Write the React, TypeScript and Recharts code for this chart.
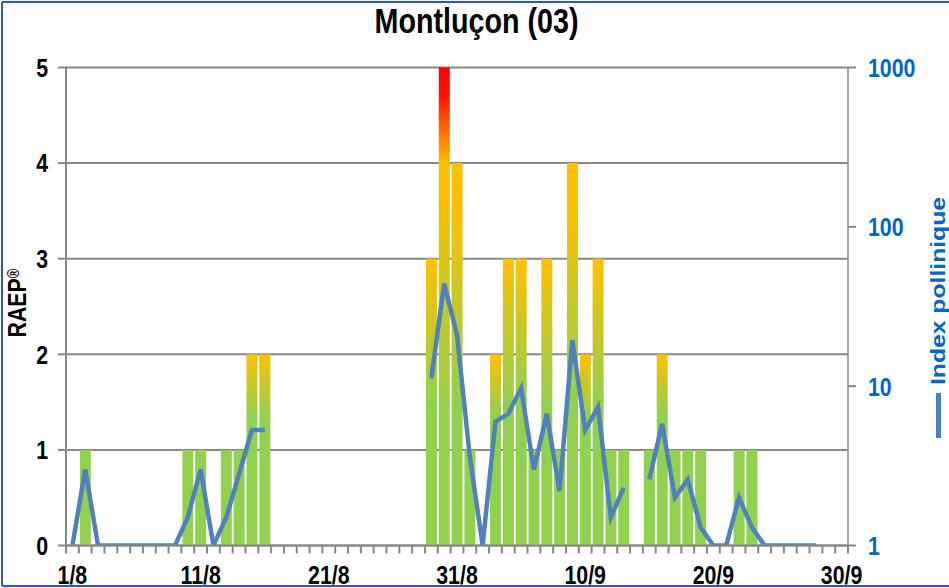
import React from 'react';
import { ComposedChart, Bar, Line, XAxis, YAxis, CartesianGrid, Cell } from 'recharts';

const days = [
  '1/8', '2/8', '3/8', '4/8', '5/8', '6/8', '7/8', '8/8', '9/8', '10/8',
  '11/8', '12/8', '13/8', '14/8', '15/8', '16/8', '17/8', '18/8', '19/8', '20/8',
  '21/8', '22/8', '23/8', '24/8', '25/8', '26/8', '27/8', '28/8', '29/8', '30/8',
  '31/8', '1/9', '2/9', '3/9', '4/9', '5/9', '6/9', '7/9', '8/9', '9/9',
  '10/9', '11/9', '12/9', '13/9', '14/9', '15/9', '16/9', '17/9', '18/9', '19/9',
  '20/9', '21/9', '22/9', '23/9', '24/9', '25/9', '26/9', '27/9', '28/9', '29/9',
  '30/9',
];

// RAEP (risque allergique), 0-5
const raep = [
  0, 1, 0, 0, 0, 0, 0, 0, 0, 1,
  1, 0, 1, 1, 2, 2, 0, 0, 0, 0,
  0, 0, 0, 0, 0, 0, 0, 0, 3, 5,
  4, 1, 0, 2, 3, 3, 1, 3, 1, 4,
  2, 3, 1, 1, 0, 1, 2, 1, 1, 1,
  0, 0, 1, 1, 0, 0, 0, 0, 0, 0,
  0,
];

// index pollinique (log axis), null = pas de mesure
const pollen: (number | null)[] = [
  1, 3.0, 1, 1, 1, 1, 1, 1, 1, 1.5,
  3.0, 1, 1.5, 2.8, 5.3, 5.3, null, null, null, null,
  null, null, null, null, null, null, null, null, 11.2, 44,
  21, 3.6, 1, 6.0, 6.7, 9.7, 3.0, 6.7, 2.2, 19.4,
  5.3, 7.4, 1.5, 2.3, null, 2.6, 5.8, 2.0, 2.6, 1.3,
  1, 1, 2.0, 1.3, 1, 1, 1, 1, 1, null,
  null,
];

const leftTicks = [0, 1, 2, 3, 4, 5];
const rightTicks = [1, 10, 100, 1000];

const W = 949;
const H = 588;
const GRID = '#888888';
const GREEN = '#92D050';
const ORANGE = '#FFC000';
const BLUE_TXT = '#0066CC';
const LINE = '#4F81BD';
const FONT = "'Liberation Sans', Arial, sans-serif";
const SQUEEZE = 0.82; // the original uses a narrow bold face
const BAND = 782 / days.length;

const data = days.map((d, i) => ({ day: d, raep: raep[i], pollen: pollen[i] }));

function NText(props: any) {
  const { x, y, rot = 0, anchor = 'middle', size = 26, fill = '#000', dy, children } = props;
  return (
    <text
      transform={`translate(${x} ${y}) rotate(${rot}) scale(${SQUEEZE} 1)`}
      textAnchor={anchor}
      dy={dy}
      fill={fill}
      fontSize={size}
      fontWeight={700}
      fontFamily={FONT}
    >
      {children}
    </text>
  );
}

function DayTick(props: any) {
  const { x, y, payload, index } = props;
  const half = payload && payload.offset ? payload.offset : BAND / 2;
  return (
    <g>
      <line x1={x - half} x2={x - half} y1={y} y2={y + 8} stroke={GRID} strokeWidth={2} />
      {index === days.length - 1 && (
        <line x1={x + half} x2={x + half} y1={y} y2={y + 8} stroke={GRID} strokeWidth={2} />
      )}
      {index % 10 === 0 && (
        <NText x={x} y={y + 38} size={26}>
          {payload.value}
        </NText>
      )}
    </g>
  );
}

function LeftTick(props: any) {
  const { x, y, payload } = props;
  return (
    <NText x={x} y={y} anchor='end' dy='0.36em' size={26}>
      {payload.value}
    </NText>
  );
}

function RightTick(props: any) {
  const { x, y, payload } = props;
  return (
    <NText x={x} y={y} anchor='start' dy='0.36em' size={26} fill={BLUE_TXT}>
      {payload.value}
    </NText>
  );
}

function barFill(v: number) {
  if (v <= 1) return GREEN;
  return `url(#raep${v})`;
}

export default function App() {
  return (
    <div style={{ position: 'absolute', left: 0, top: 0, width: W, height: H, overflow: 'hidden', background: '#fff' }}>
      <ComposedChart
        width={W}
        height={H}
        data={data}
        margin={{ top: 67.5, right: 6, bottom: 6.5, left: 6 }}
        barCategoryGap={1}
      >
        <defs>
          <linearGradient id='raep2' x1='0' y1='0' x2='0' y2='1'>
            <stop offset='0' stopColor={ORANGE} />
            <stop offset='0.32' stopColor={GREEN} />
            <stop offset='1' stopColor={GREEN} />
          </linearGradient>
          <linearGradient id='raep3' x1='0' y1='0' x2='0' y2='1'>
            <stop offset='0' stopColor={ORANGE} />
            <stop offset='0.5' stopColor={GREEN} />
            <stop offset='1' stopColor={GREEN} />
          </linearGradient>
          <linearGradient id='raep4' x1='0' y1='0' x2='0' y2='1'>
            <stop offset='0' stopColor={ORANGE} />
            <stop offset='0.1' stopColor={ORANGE} />
            <stop offset='0.62' stopColor={GREEN} />
            <stop offset='1' stopColor={GREEN} />
          </linearGradient>
          <linearGradient id='raep5' x1='0' y1='0' x2='0' y2='1'>
            <stop offset='0' stopColor='#FF0000' />
            <stop offset='0.06' stopColor='#FF1500' />
            <stop offset='0.2' stopColor={ORANGE} />
            <stop offset='0.3' stopColor='#F5C000' />
            <stop offset='0.72' stopColor={GREEN} />
            <stop offset='1' stopColor={GREEN} />
          </linearGradient>
        </defs>
        <CartesianGrid yAxisId='left' vertical={false} stroke={GRID} strokeWidth={2} />
        <XAxis
          dataKey='day'
          interval={0}
          height={36}
          tickSize={0}
          tickMargin={0}
          tickLine={false}
          axisLine={{ stroke: GRID, strokeWidth: 2 }}
          tick={<DayTick />}
        />
        <YAxis
          yAxisId='left'
          domain={[0, 5]}
          ticks={leftTicks}
          width={60}
          tickSize={8}
          tickMargin={10}
          axisLine={{ stroke: GRID, strokeWidth: 2 }}
          tickLine={{ stroke: GRID, strokeWidth: 2 }}
          tick={<LeftTick />}
        />
        <YAxis
          yAxisId='right'
          orientation='right'
          type='number'
          scale='log'
          domain={[1, 1000]}
          ticks={rightTicks}
          allowDataOverflow
          width={95}
          tickSize={8}
          tickMargin={12}
          axisLine={{ stroke: GRID, strokeWidth: 1.5 }}
          tickLine={{ stroke: GRID, strokeWidth: 2 }}
          tick={<RightTick />}
        />
        <Bar dataKey='raep' yAxisId='left' isAnimationActive={false}>
          {data.map((d, i) => (
            <Cell key={i} fill={barFill(d.raep)} />
          ))}
        </Bar>
        <Line
          dataKey='pollen'
          yAxisId='right'
          type='linear'
          stroke={LINE}
          strokeWidth={4.5}
          dot={false}
          connectNulls={false}
          isAnimationActive={false}
        />
      </ComposedChart>
      <svg width={W} height={H} style={{ position: 'absolute', left: 0, top: 0, pointerEvents: 'none' }}>
        <line x1={2} y1={2} x2={2} y2={586} stroke='#2F52D6' strokeWidth={2} />
        <line x1={2} y1={2} x2={W} y2={2} stroke='#2F52D6' strokeWidth={2} />
        <line x1={2} y1={586} x2={W} y2={586} stroke='#2F52D6' strokeWidth={2} />
        <NText x={476.5} y={33} size={35}>
          Montluçon (03)
        </NText>
        <NText x={26} y={303} rot={-90} size={26}>
          RAEP<tspan fontSize={16} dy={-7}>®</tspan>
        </NText>
        <text
          x={945}
          y={291}
          transform='rotate(-90 945 291)'
          textAnchor='middle'
          fill={BLUE_TXT}
          fontSize={20}
          fontWeight={700}
          fontFamily={FONT}
          textLength={188}
          lengthAdjust='spacingAndGlyphs'
        >
          Index pollinique
        </text>
        <line x1={938.5} y1={393} x2={938.5} y2={438} stroke={LINE} strokeWidth={5} />
      </svg>
    </div>
  );
}
